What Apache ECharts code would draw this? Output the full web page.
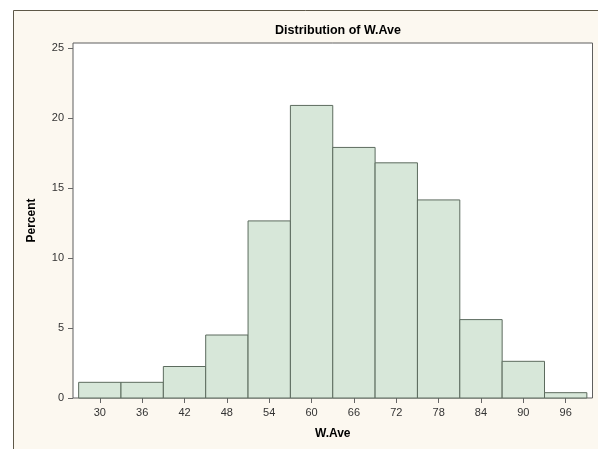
<!DOCTYPE html>
<html>
<head>
<meta charset="utf-8">
<script src="https://cdn.jsdelivr.net/npm/echarts@6/dist/echarts.min.js"></script>
<style>
html,body{margin:0;padding:0;background:#ffffff;}
#chart{width:598px;height:449px;}
</style>
</head>
<body>
<div id="chart"></div>
<script>
const binCenters = [30, 36, 42, 48, 54, 60, 66, 72, 78, 84, 90, 96];
const percents = [1.12, 1.12, 2.25, 4.5, 12.65, 20.9, 17.9, 16.8, 14.15, 5.6, 2.62, 0.38];
const binWidth = 6;
const xTicks = [30, 36, 42, 48, 54, 60, 66, 72, 78, 84, 90, 96];
const yTicks = [0, 5, 10, 15, 20, 25];

const chart = echarts.init(document.getElementById('chart'), null, {renderer: 'canvas'});
const data = binCenters.map((c, i) => [c, percents[i]]);

chart.setOption({
  animation: false,
  backgroundColor: '#FCF8F0',
  graphic: [
    {type: 'rect', silent: true, shape: {x: 0, y: 0, width: 598, height: 10}, style: {fill: '#ffffff'}},
    {type: 'rect', silent: true, shape: {x: 0, y: 0, width: 13, height: 449}, style: {fill: '#ffffff'}},
    {type: 'line', silent: true, shape: {x1: 13.5, y1: 10.5, x2: 598, y2: 10.5}, style: {stroke: '#5E5848', lineWidth: 1}},
    {type: 'line', silent: true, shape: {x1: 13.5, y1: 10.5, x2: 13.5, y2: 449}, style: {stroke: '#5E5848', lineWidth: 1}}
  ],
  title: {
    text: 'Distribution of W.Ave',
    left: 333, top: 19, textAlign: 'center',
    textStyle: {fontFamily: 'Liberation Sans', fontWeight: 'bold', fontSize: 12.5, color: '#000'}
  },
  grid: {
    left: 73, top: 43, right: 5.5, bottom: 51,
    show: true, backgroundColor: '#ffffff', borderColor: '#5F5F5F', borderWidth: 1
  },
  xAxis: {
    type: 'value', min: 26.2, max: 99.8,
    name: 'W.Ave', nameLocation: 'middle', nameGap: 30,
    nameTextStyle: {fontFamily: 'Liberation Sans', fontWeight: 'bold', fontSize: 12, color: '#000'},
    axisLine: {show: false},
    splitLine: {show: false},
    axisTick: {show: true, length: 5, inside: false, customValues: xTicks, lineStyle: {color: '#666'}},
    axisLabel: {customValues: xTicks, margin: 9, fontFamily: 'Liberation Sans', fontSize: 11, color: '#333'}
  },
  yAxis: {
    type: 'value', min: 0, max: 25.36,
    name: 'Percent', nameLocation: 'middle', nameGap: 35, nameRotate: 90,
    nameTextStyle: {fontFamily: 'Liberation Sans', fontWeight: 'bold', fontSize: 12, color: '#000'},
    axisLine: {show: false},
    splitLine: {show: false},
    axisTick: {show: true, length: 5, customValues: yTicks, lineStyle: {color: '#666'}},
    axisLabel: {customValues: yTicks, margin: 9, fontFamily: 'Liberation Sans', fontSize: 11, color: '#333'}
  },
  series: [{
    type: 'custom',
    data: data,
    renderItem: function (params, api) {
      const c = api.value(0), v = api.value(1);
      const p1 = api.coord([c - binWidth / 2, v]);
      const p2 = api.coord([c + binWidth / 2, 0]);
      return {
        type: 'rect',
        shape: {x: p1[0], y: p1[1], width: p2[0] - p1[0], height: p2[1] - p1[1]},
        style: {fill: '#D7E7D9', stroke: '#5C6B5E', lineWidth: 1}
      };
    }
  }]
});
</script>
</body>
</html>
